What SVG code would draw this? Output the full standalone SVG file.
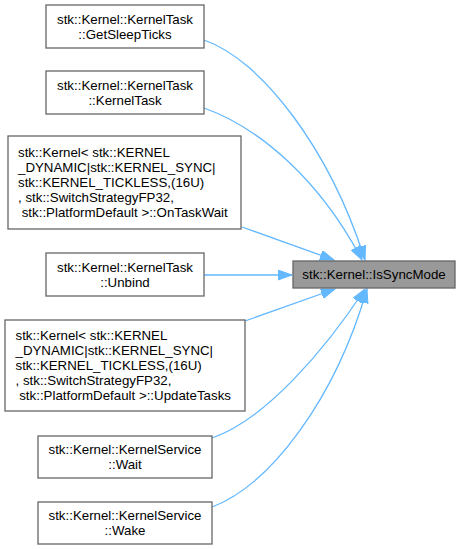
<svg xmlns="http://www.w3.org/2000/svg" width="463" height="549" viewBox="0 0 463 549">
<defs>
<style>
.n rect{fill:#ffffff;stroke:#666666;stroke-width:1.3}
.c rect{fill:#999999;stroke:#666666;stroke-width:1.3}
text{font-family:"Liberation Sans",Arial,sans-serif;font-size:13.3px;fill:#000000;white-space:pre}
.m{text-anchor:middle}
.e path{fill:none;stroke:#63b8ff;stroke-width:1.3;marker-end:url(#ah)}
</style>
<marker id="ah" markerUnits="userSpaceOnUse" markerWidth="15" markerHeight="11" refX="14" refY="5" orient="auto">
<path d="M0,0 L14,5 L0,10 z" fill="#63b8ff" stroke="#63b8ff" stroke-width="1"/>
</marker>
</defs>
<rect width="463" height="549" fill="#ffffff"/>
<g id="edges" class="e">
<path d="M204,40 C262,60 330,150 365,260"/>
<path d="M204,108 C260,128 320,180 362,260"/>
<path d="M242,227 L334,260"/>
<path d="M204,275 L292,275"/>
<path d="M245,321 L335,289"/>
<path d="M212,438 C265,420 325,350 365,289"/>
<path d="M212,507 C270,485 335,400 367,289"/>
</g>
<g id="center" class="c">
<rect x="293" y="261" width="162" height="27"/>
<text class="m" x="374" y="279">stk::Kernel::IsSyncMode</text>
</g>
<g id="n1" class="n">
<rect x="46" y="5" width="158" height="43"/>
<text class="m" x="125" y="23.5">stk::Kernel::KernelTask</text>
<text class="m" x="125" y="38.5">::GetSleepTicks</text>
</g>
<g id="n2" class="n">
<rect x="46" y="71" width="158" height="43"/>
<text class="m" x="125" y="89.5">stk::Kernel::KernelTask</text>
<text class="m" x="125" y="104.5">::KernelTask</text>
</g>
<g id="n3" class="n">
<rect x="8" y="136" width="233" height="93"/>
<text x="18" y="157">stk::Kernel&lt; stk::KERNEL</text>
<text x="18" y="172">_DYNAMIC|stk::KERNEL_SYNC|</text>
<text x="18" y="187">stk::KERNEL_TICKLESS,(16U)</text>
<text x="18" y="202">, stk::SwitchStrategyFP32,</text>
<text x="18" y="217"> stk::PlatformDefault &gt;::OnTaskWait</text>
</g>
<g id="n4" class="n">
<rect x="46" y="253" width="158" height="43"/>
<text class="m" x="125" y="271.5">stk::Kernel::KernelTask</text>
<text class="m" x="125" y="286.5">::Unbind</text>
</g>
<g id="n5" class="n">
<rect x="5" y="320" width="240" height="91"/>
<text x="15.5" y="340">stk::Kernel&lt; stk::KERNEL</text>
<text x="15.5" y="355">_DYNAMIC|stk::KERNEL_SYNC|</text>
<text x="15.5" y="370">stk::KERNEL_TICKLESS,(16U)</text>
<text x="15.5" y="385">, stk::SwitchStrategyFP32,</text>
<text x="15.5" y="400"> stk::PlatformDefault &gt;::UpdateTasks</text>
</g>
<g id="n6" class="n">
<rect x="38" y="436" width="174" height="42"/>
<text class="m" x="125" y="454">stk::Kernel::KernelService</text>
<text class="m" x="125" y="469">::Wait</text>
</g>
<g id="n7" class="n">
<rect x="38" y="502" width="174" height="42"/>
<text class="m" x="125" y="520">stk::Kernel::KernelService</text>
<text class="m" x="125" y="535">::Wake</text>
</g>
</svg>
